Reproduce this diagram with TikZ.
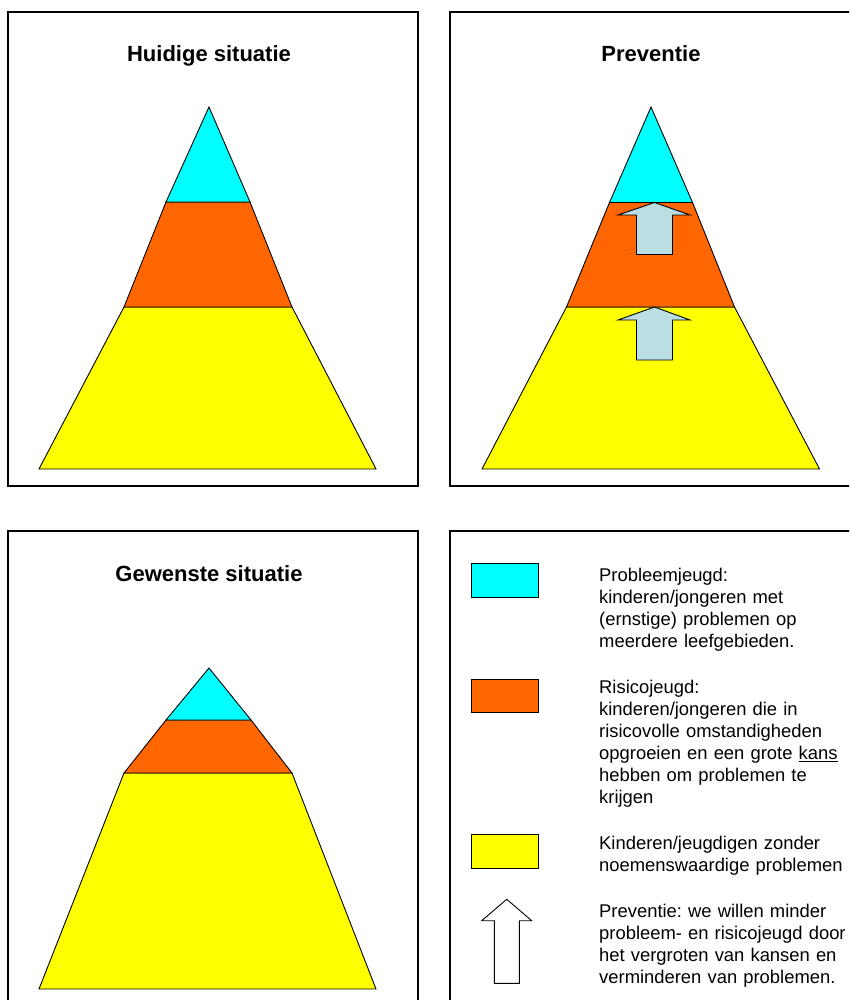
\documentclass[tikz,border=0pt]{standalone}
\usepackage{fontspec}
\setmainfont{Liberation Sans}
\frenchspacing
\definecolor{pcyan}{RGB}{0,255,255}
\definecolor{porange}{RGB}{255,102,0}
\definecolor{pyellow}{RGB}{255,255,0}
\definecolor{parrow}{RGB}{187,222,226}
\tikzset{
  panel/.style={draw=black, line width=1.5pt},
  layer/.style={draw=black, line width=0.9pt, line join=miter},
  uparrow/.style={draw=black, line width=0.9pt, fill=parrow},
  legarrow/.style={draw=black, line width=0.9pt, fill=white},
  swatch/.style={draw=black, line width=0.9pt},
  title/.style={font=\fontsize{22}{26}\selectfont\bfseries, anchor=base, inner sep=0pt},
  legtext/.style={font=\fontsize{18.4}{22}\selectfont\frenchspacing, anchor=base west, inner sep=0pt, text width=250pt, align=left}
}
\begin{document}
\begin{tikzpicture}[x=1pt, y=-1pt]
\useasboundingbox (0,0) rectangle (849,1000);
\clip (0,0) rectangle (849,1000);
\fill[white] (0,0) rectangle (849,1000);

% panels
\draw[panel] (8,12) rectangle (418,486);
\draw[panel] (450,12) rectangle (860,486);
\draw[panel] (8,531) rectangle (418,1010);
\draw[panel] (450,531) rectangle (860,1010);

% titles
\node[title] (t1) at (209,62) {Huidige situatie};
\node[title] (t2) at (651,62) {Preventie};
\node[title] (t3) at (209,581) {Gewenste situatie};

% pyramid 1: huidige situatie
\draw[layer, fill=pyellow] (124,307) -- (292,307) -- (376,469) -- (39,469) -- cycle;
\draw[layer, fill=porange] (166,202) -- (250,202) -- (292,307) -- (124,307) -- cycle;
\draw[layer, fill=pcyan] (209,107) -- (250,202) -- (166,202) -- cycle;

% pyramid 2: preventie
\draw[layer, fill=pyellow] (566.5,307) -- (734.5,307) -- (819.5,469) -- (482,469) -- cycle;
\draw[layer, fill=porange] (609.5,202.5) -- (692.5,202.5) -- (734.5,307) -- (566.5,307) -- cycle;
\draw[layer, fill=pcyan] (651,107) -- (692.5,202.5) -- (609.5,202.5) -- cycle;
% arrows
\draw[uparrow] (654.5,202.5) -- (690,215) -- (672.5,215) -- (672.5,254.5) -- (636.5,254.5) -- (636.5,215) -- (618,215) -- cycle;
\draw[uparrow] (654.5,307) -- (690,320) -- (672.5,320) -- (672.5,360) -- (636.5,360) -- (636.5,320) -- (618,320) -- cycle;

% pyramid 3: gewenste situatie
\draw[layer, fill=pyellow] (124,773) -- (292,773) -- (376,989) -- (39,989) -- cycle;
\draw[layer, fill=porange] (166,720) -- (251,720) -- (292,773) -- (124,773) -- cycle;
\draw[layer, fill=pcyan] (209,668) -- (251,720) -- (166,720) -- cycle;

% legend swatches
\draw[swatch, fill=pcyan] (471,563) rectangle (538,597);
\draw[swatch, fill=porange] (471,679) rectangle (538,712);
\draw[swatch, fill=pyellow] (471,834.5) rectangle (538,868.5);
\draw[legarrow] (506.7,899.3) -- (531.7,920.7) -- (519.3,920.7) -- (519.3,983.3) -- (494.3,983.3) -- (494.3,920.7) -- (481.7,920.7) -- cycle;

% legend texts
\node[legtext] (l1) at (599,581.7) {Probleemjeugd:\\kinderen/jongeren met\\(ernstige) problemen op\\meerdere leefgebieden.};
\node[legtext] (l2) at (599,693.5) {Risicojeugd:\\kinderen/jongeren die in\\risicovolle omstandigheden\\opgroeien en een grote \underline{kans}\\hebben om problemen te\\krijgen};
\node[legtext] (l3) at (599,849.5) {Kinderen/jeugdigen zonder\\noemenswaardige problemen};
\node[legtext] (l4) at (599,917) {Preventie: we willen minder\\probleem- en risicojeugd door\\het vergroten van kansen en\\verminderen van problemen.};
\end{tikzpicture}
\end{document}
